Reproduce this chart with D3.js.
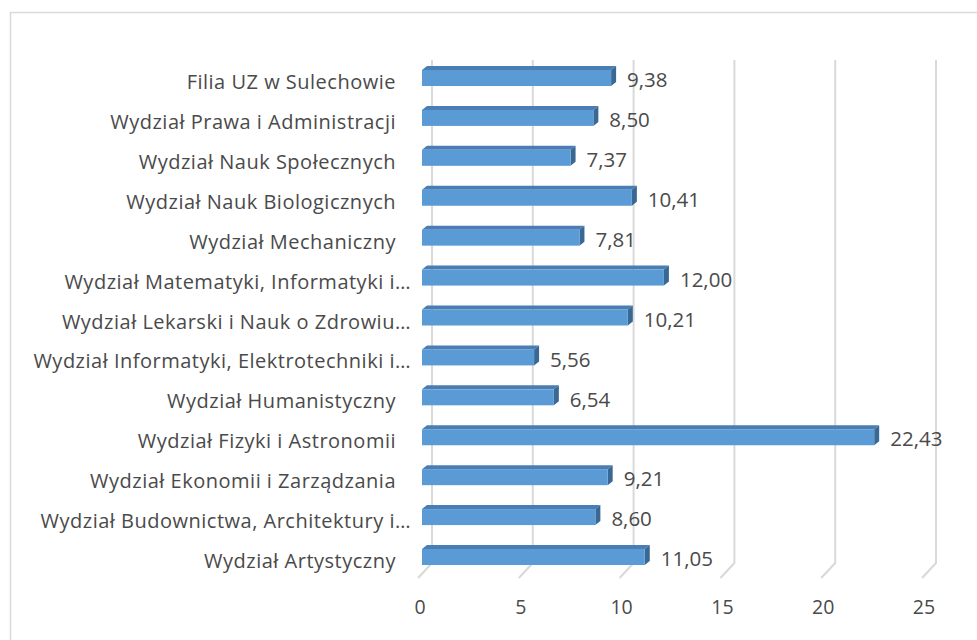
<!DOCTYPE html>
<html>
<head>
<meta charset="utf-8">
<script src="https://cdn.jsdelivr.net/npm/d3@7"></script>
<style>
  body { margin: 0; background: #fff; }
  text { font-family: "Open Sans", "Noto Sans", sans-serif; fill: #4a4a4a; }
</style>
</head>
<body>
<svg id="chart" width="977" height="640"></svg>
<script>
// data, in Excel order (first category drawn at the bottom)
var categories = [
  'Wydział Artystyczny',
  'Wydział Budownictwa, Architektury i…',
  'Wydział Ekonomii i Zarządzania',
  'Wydział Fizyki i Astronomii',
  'Wydział Humanistyczny',
  'Wydział Informatyki, Elektrotechniki i…',
  'Wydział Lekarski i Nauk o Zdrowiu…',
  'Wydział Matematyki, Informatyki i…',
  'Wydział Mechaniczny',
  'Wydział Nauk Biologicznych',
  'Wydział Nauk Społecznych',
  'Wydział Prawa i Administracji',
  'Filia UZ w Sulechowie'
];
var values = [11.05, 8.60, 9.21, 22.43, 6.54, 5.56, 10.21, 12.00, 7.81, 10.41, 7.37, 8.50, 9.38];
var ticks = [0, 5, 10, 15, 20, 25];

var svg = d3.select('#chart'),
    depth = {dx: 5, dy: -4},       // bar depth
    floor = {dx: -14, dy: 15},     // floor from back wall to front edge
    barH = 16,
    gridTop = 60, gridBottom = 563;

// chart border
svg.append('rect')
  .attr('x', 10.5).attr('y', 12.5)
  .attr('width', 980).attr('height', 640)
  .attr('fill', 'none').attr('stroke', '#d9d9d9').attr('stroke-width', 1.5);

var xFront = d3.scaleLinear().domain([0, 25]).range([422, 926]),
    xBack = d3.scaleLinear().domain([0, 25]).range([432, 936]),
    y = d3.scalePoint().domain(categories).range([557, 78]);

// back wall gridlines + floor lines
var grid = svg.append('g').attr('stroke', '#d9d9d9').attr('stroke-width', 2).attr('fill', 'none');
grid.selectAll('path').data(ticks).enter().append('path')
  .attr('d', function(d) {
    var x = xBack(d);
    return 'M' + x + ',' + gridTop + 'V' + gridBottom + 'l' + floor.dx + ',' + floor.dy;
  });

// tick labels
svg.append('g').selectAll('text').data(ticks).enter().append('text')
  .attr('x', function(d) { return xBack(d) + floor.dx + 2; })
  .attr('y', 607)
  .attr('dy', '0.35em')
  .attr('text-anchor', 'middle')
  .style('font-size', '19.5px')
  .text(function(d) { return d; });

// bars
var bars = svg.append('g').selectAll('g').data(values).enter().append('g');

bars.each(function(v, i) {
  var g = d3.select(this),
      x0 = xFront(0), x1 = xFront(v),
      yt = y(categories[i]) - barH / 2;
  // top face
  g.append('path')
    .attr('d', 'M' + x0 + ',' + yt + 'l' + depth.dx + ',' + depth.dy + 'H' + (x1 + depth.dx) + 'l' + (-depth.dx) + ',' + (-depth.dy) + 'Z')
    .attr('fill', '#4a7db3');
  // side face
  g.append('path')
    .attr('d', 'M' + x1 + ',' + yt + 'l' + depth.dx + ',' + depth.dy + 'v' + barH + 'l' + (-depth.dx) + ',' + (-depth.dy) + 'Z')
    .attr('fill', '#3a6894');
  // front face
  g.append('rect')
    .attr('x', x0).attr('y', yt)
    .attr('width', x1 - x0).attr('height', barH)
    .attr('fill', '#5b9bd5');
});

// value labels
svg.append('g').selectAll('text').data(values).enter().append('text')
  .attr('x', function(d) { return xFront(d) + depth.dx + 11; })
  .attr('y', function(d, i) { return y(categories[i]) + 2; })
  .attr('dy', '0.35em')
  .style('font-size', '20.5px')
  .text(function(d) { return d3.format('.2f')(d).replace('.', ','); });

// category labels
svg.append('g').selectAll('text').data(categories).enter().append('text')
  .attr('x', function(d) { return d.slice(-1) == '…' ? 411 : 396; })
  .attr('y', function(d) { return y(d) + 4; })
  .attr('dy', '0.35em')
  .attr('text-anchor', 'end')
  .style('font-size', '20px')
  .style('letter-spacing', '0.5px')
  .text(function(d) { return d; });
</script>
</body>
</html>
